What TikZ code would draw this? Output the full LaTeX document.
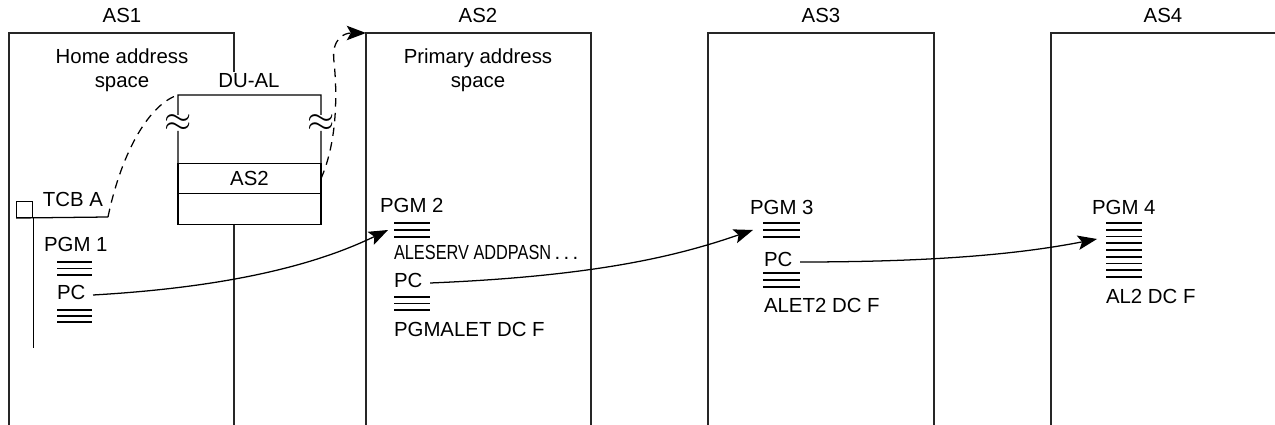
\documentclass[tikz,border=0pt]{standalone}
\usepackage{fontspec}
\setmainfont{Liberation Sans}
\usepackage{graphicx}
\usepackage{tikz}
\usetikzlibrary{positioning,arrows.meta}
\tikzset{
  txt/.style={inner sep=1pt, font=\fontsize{14.5}{17}\selectfont},
  lbl/.style={txt, text height=1.5ex, text depth=0.25ex},
  lbll/.style={lbl, anchor=west},
  durow/.style={rectangle, draw, minimum width=3.575cm, minimum height=0.7625cm,
    inner sep=0pt, outer sep=0pt, font=\fontsize{14.5}{17}\selectfont},
  brk/.style={inner sep=0pt, font=\fontsize{26}{26}\selectfont},
  codeline/.style={line width=1.2pt},
  call/.style={-{Stealth[length=4.8mm, width=3.6mm, inset=1mm]}, line width=0.9pt},
  link/.style={dash pattern=on 6pt off 4.5pt, line width=0.9pt}
}

\begin{document}
\begin{tikzpicture}[x=0.025cm, y=-0.025cm, line width=0.9pt,
    asbox/.style={line width=1pt, draw=black!85}
  ]
  \useasboundingbox (0,0) rectangle (1275,425);
  % address spaces
  \node[lbl] (as1) at (122,18) {AS1};
  \node[lbl] (as2) at (478,18) {AS2};
  \node[lbl] (as3) at (821,18) {AS3};
  \node[lbl] (as4) at (1163,18) {AS4};
  \draw[asbox] (9,426) -- (9,33) -- (234,33) -- (234,72);
  \draw[asbox] (234,224) -- (234,426);
  \draw[asbox] (366,426) -- (366,33) coordinate (as2corner) -- (591,33) -- (591,426);
  \draw[asbox] (708,426) -- (708,33) -- (934,33) -- (934,426);
  \draw[asbox] (1051,426) -- (1051,33) -- (1276,33);
  \node[txt, align=center] (home) at (122,70) {Home address\\space};
  \node[txt, align=center] (primary) at (478,70) {Primary address\\space};

  % DU-AL
  \node[lbl] (dual) at (249,83) {DU-AL};
  \node[durow] (duas2) at (249.5,178.5) {AS2};
  \node[durow, below=0pt of duas2] (dunext) {};
  \draw (duas2.north west) -- (178,131) (178,115) -- (178,95) coordinate (dutop)
    -- (321,95) -- (321,115) (321,131) -- (duas2.north east);
  \node[brk] (brkl) at (178,123) {$\approx$};
  \node[brk] (brkr) at (321,123) {$\approx$};

  % TCB
  \node[draw, minimum size=0.4cm, inner sep=0pt] (tcbbox) at (24.7,209.4) {};
  \node[lbl] (tcb) at (73,202) {TCB A};
  \draw (tcbbox.south west) -- (108,217) coordinate (tcbend);
  \draw (tcbbox.south east) -- ++(0,130);
  \draw[link] (tcbend) .. controls (122,150) and (150,104) .. (dutop);
  \draw[link, -{Stealth[length=4.8mm, width=3.6mm, inset=1mm]}] (duas2.east)
    .. controls (338,140) and (337,90) .. (334,62)
    .. controls (331,38) and (345,33) .. (as2corner);

  % programs
  \node[lbll] (pgm1) at (42,247) {PGM 1};
  \node[lbll] (pc1) at (55,295) {PC};
  \foreach \y in {262,268.5,275,310,316,322}
    \draw[codeline] (57,\y) -- ++(35,0);

  \node[lbll] (pgm2) at (378,208) {PGM 2};
  \node[lbll] (aleserv) at (392,255) {\scalebox{0.8}[1]{ALESERV ADDPASN}\,.\,.\,.};
  \node[lbll] (pc2) at (392,283) {PC};
  \node[lbll] (pgmalet) at (392,332) {PGMALET DC F};
  \foreach \y in {223,230,237,297,303.5,310}
    \draw[codeline] (394,\y) -- ++(36,0);
  \coordinate (in2) at (388,230);

  \node[lbll] (pgm3) at (748,210) {PGM 3};
  \node[lbll] (pc3) at (762,262) {PC};
  \node[lbll] (alet2) at (762,308) {ALET2 DC F};
  \foreach \y in {223,230,237,273,280,287}
    \draw[codeline] (763,\y) -- ++(37,0);
  \coordinate (in3) at (753,230);

  \node[lbll] (pgm4) at (1090,210) {PGM 4};
  \node[lbll] (al2) at (1104,299) {AL2 DC F};
  \foreach \k in {0,...,8}
    \draw[codeline] (1106,223+6.75*\k) -- ++(36,0);
  \coordinate (in4) at (1097,239);

  \draw[call] ([xshift=4pt]pc1.east) .. controls (250,286) and (330,258) .. (in2);
  \draw[call] ([xshift=4pt]pc2.east) .. controls (600,276) and (680,255) .. (in3);
  \draw[call] ([xshift=4pt]pc3.east) .. controls (950,262) and (1030,252) .. (in4);
\end{tikzpicture}
\end{document}
